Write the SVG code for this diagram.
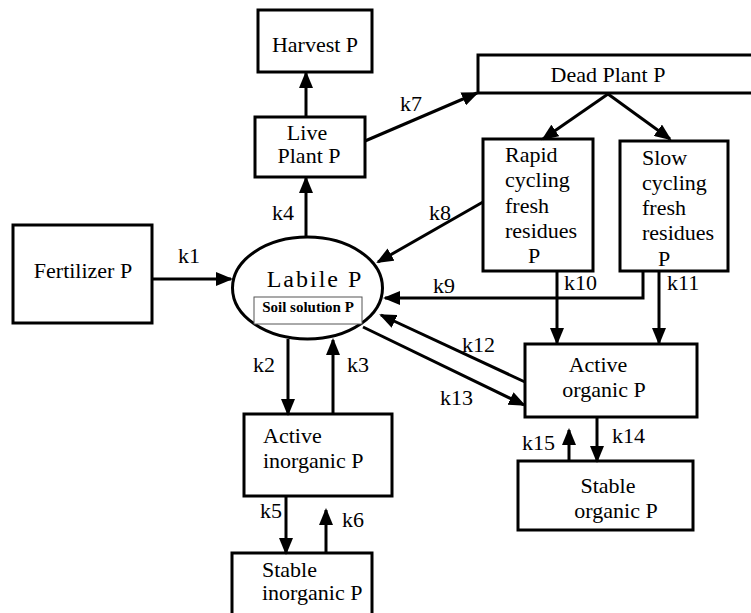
<svg xmlns="http://www.w3.org/2000/svg" width="751" height="613" viewBox="0 0 751 613">
<defs>
<marker id="ah" markerUnits="userSpaceOnUse" markerWidth="18" markerHeight="14" refX="15" refY="7" orient="auto">
<path d="M0,0 L17,7 L0,14 z" fill="#000"/>
</marker>
<style>
.box{fill:#fff;stroke:#000;stroke-width:3}
text{font-family:'Liberation Serif','DejaVu Serif','Times New Roman',serif;fill:#000}
.t{font-size:22px}
.k{font-size:22px}
.a{fill:none;stroke:#000;stroke-width:3;marker-end:url(#ah)}
</style>
</defs>
<rect width="751" height="613" fill="#fff"/>

<g id="harvest">
<rect class="box" x="258" y="10" width="114" height="62"/>
<text class="t" x="315" y="52" text-anchor="middle">Harvest P</text>
</g>
<g id="live">
<rect class="box" x="255" y="117" width="110" height="60"/>
<text class="t" x="307" y="140" text-anchor="middle">Live</text>
<text class="t" x="309" y="163" text-anchor="middle">Plant P</text>
</g>
<g id="dead">
<rect class="box" x="478" y="55" width="290" height="38"/>
<text class="t" x="608" y="82" text-anchor="middle">Dead Plant P</text>
</g>
<g id="rapid">
<rect class="box" x="483" y="139" width="110" height="132"/>
<text class="t" x="505" y="162">Rapid</text>
<text class="t" x="505" y="187">cycling</text>
<text class="t" x="505" y="213">fresh</text>
<text class="t" x="505" y="238">residues</text>
<text class="t" x="534" y="263" text-anchor="middle">P</text>
</g>
<g id="slow">
<rect class="box" x="620" y="141" width="108" height="130"/>
<text class="t" x="642" y="165">Slow</text>
<text class="t" x="642" y="190">cycling</text>
<text class="t" x="642" y="215">fresh</text>
<text class="t" x="642" y="240">residues</text>
<text class="t" x="664" y="266" text-anchor="middle">P</text>
</g>
<g id="fertilizer">
<rect class="box" x="13" y="225" width="139" height="98"/>
<text class="t" x="83" y="278" text-anchor="middle">Fertilizer P</text>
</g>
<g id="labile">
<ellipse cx="307.5" cy="288" rx="75" ry="51" fill="#fff" stroke="#000" stroke-width="3"/>
<text x="315" y="287" text-anchor="middle" font-size="24" letter-spacing="2">Labile P</text>
<rect x="254" y="297" width="108" height="27" fill="#fff" stroke="#555" stroke-width="1"/>
<text x="308" y="312" text-anchor="middle" font-size="15" font-weight="bold">Soil solution P</text>
</g>
<g id="active-organic">
<rect class="box" x="525" y="344" width="172" height="73"/>
<text class="t" x="598" y="372" text-anchor="middle">Active</text>
<text class="t" x="604" y="397" text-anchor="middle">organic P</text>
</g>
<g id="active-inorganic">
<rect class="box" x="244" y="414" width="148" height="82"/>
<text class="t" x="263" y="443">Active</text>
<text class="t" x="263" y="468">inorganic P</text>
</g>
<g id="stable-organic">
<rect class="box" x="518" y="461" width="175" height="69"/>
<text class="t" x="608" y="493" text-anchor="middle">Stable</text>
<text class="t" x="616" y="518" text-anchor="middle">organic P</text>
</g>
<g id="stable-inorganic">
<rect class="box" x="232" y="553" width="140" height="70"/>
<text class="t" x="262" y="577">Stable</text>
<text class="t" x="262" y="600">inorganic P</text>
</g>

<g id="connectors">
<line class="a" x1="306" y1="117" x2="306" y2="73"/>
<line class="a" x1="306" y1="237" x2="306" y2="178"/>
<line class="a" x1="365" y1="141" x2="477" y2="93"/>
<line class="a" x1="608" y1="94" x2="543" y2="139"/>
<line class="a" x1="608" y1="94" x2="670" y2="139"/>
<line class="a" x1="153" y1="279" x2="231" y2="279"/>
<line class="a" x1="483" y1="202" x2="378" y2="262"/>
<polyline class="a" points="643,271 643,298 385,298"/>
<line class="a" x1="557" y1="271" x2="557" y2="343"/>
<line class="a" x1="659" y1="271" x2="659" y2="343"/>
<line class="a" x1="525" y1="382" x2="381" y2="315"/>
<line class="a" x1="363" y1="327" x2="524" y2="405"/>
<line class="a" x1="288" y1="339" x2="288" y2="414"/>
<line class="a" x1="333" y1="414" x2="333" y2="340"/>
<line class="a" x1="286" y1="496" x2="286" y2="553"/>
<line class="a" x1="326" y1="553" x2="326" y2="510"/>
<line class="a" x1="597" y1="417" x2="597" y2="461"/>
<line class="a" x1="569" y1="461" x2="569" y2="430"/>
</g>
<g id="labels">
<text class="k" x="272" y="220">k4</text>
<text class="k" x="400" y="111">k7</text>
<text class="k" x="178" y="263">k1</text>
<text class="k" x="429" y="220">k8</text>
<text class="k" x="433" y="293">k9</text>
<text class="k" x="564" y="290">k10</text>
<text class="k" x="667" y="290">k11</text>
<text class="k" x="462" y="352">k12</text>
<text class="k" x="440" y="405">k13</text>
<text class="k" x="253" y="372">k2</text>
<text class="k" x="347" y="372">k3</text>
<text class="k" x="260" y="518">k5</text>
<text class="k" x="342" y="527">k6</text>
<text class="k" x="612" y="443">k14</text>
<text class="k" x="522" y="450">k15</text>
</g>
</svg>
